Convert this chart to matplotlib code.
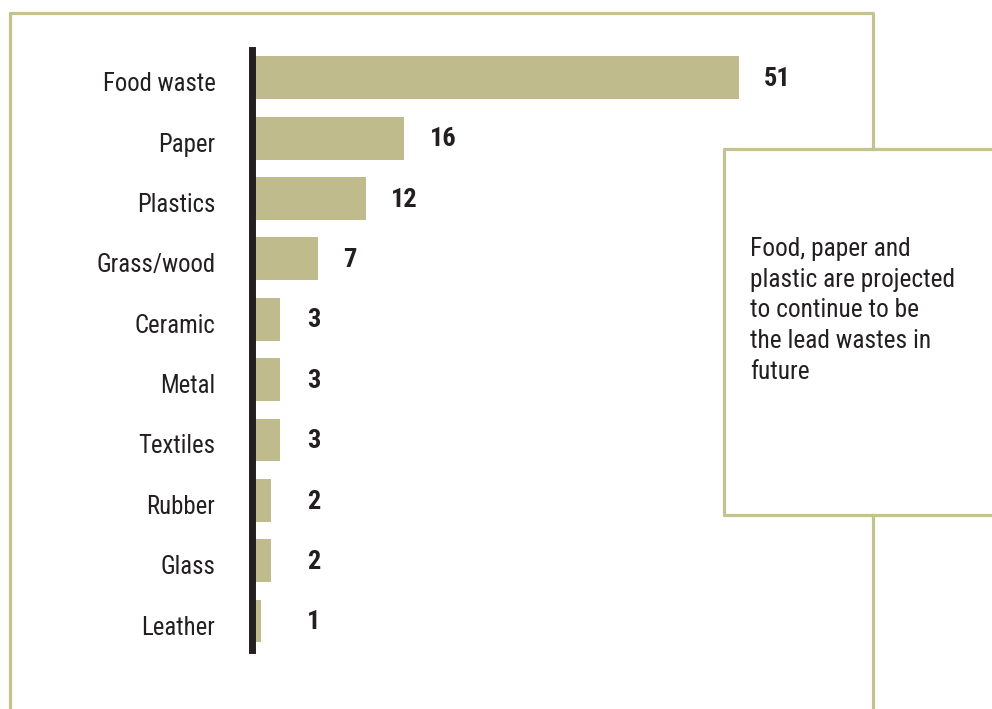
import matplotlib
matplotlib.use("Agg")
import matplotlib.pyplot as plt
from matplotlib.lines import Line2D
from matplotlib.transforms import ScaledTranslation
from matplotlib import font_manager

categories = ["Food waste", "Paper", "Plastics", "Grass/wood", "Ceramic",
              "Metal", "Textiles", "Rubber", "Glass", "Leather"]
values = [51, 16, 12, 7, 3, 3, 3, 2, 2, 1]
note = "Food, paper and\nplastic are projected\nto continue to be\nthe lead wastes in\nfuture"

names = {f.name for f in font_manager.fontManager.ttflist}
FONT = "DejaVu Sans"
for cand in ["Roboto Condensed", "Archivo Narrow", "Barlow Semi Condensed"]:
    if cand in names:
        FONT = cand
        break
plt.rcParams["font.family"] = [FONT, "DejaVu Sans"]

BAR = "#bfbb8d"
FRAME = "#c5c291"
TXT = "#231f20"

W, H = 992, 709
fig = plt.figure(figsize=(W / 100, H / 100), dpi=100)
fig.patch.set_facecolor("white")

def fx(px):
    return px / W

def fy(py):
    return 1 - py / H

px_per_unit = 9.56
ax_left, ax_right = 251.5, 860
ax = fig.add_axes([fx(ax_left), fy(650), fx(ax_right - ax_left), (650 - 50) / H])
ax.set_xlim(0, (ax_right - ax_left) / px_per_unit)
n = len(categories)
ypos = list(range(n))
ax.set_ylim(9.48, -0.46)
ax.barh(ypos, values, height=0.71, color=BAR, zorder=1)

for s in ["top", "right", "bottom"]:
    ax.spines[s].set_visible(False)
ax.spines["left"].set_color(TXT)
ax.spines["left"].set_linewidth(5)
ax.spines["left"].set_zorder(3)
ax.set_xticks([])
ax.set_yticks(ypos)
ax.set_yticklabels(categories, fontsize=17.8, color=TXT, fontweight="normal")
ax.tick_params(axis="y", length=0, pad=26)
for lab in ax.get_yticklabels():
    lab.set_transform(lab.get_transform() + ScaledTranslation(0, -4 / 100, fig.dpi_scale_trans))
ax.patch.set_alpha(0)

min_x = (307 - ax_left) / px_per_unit
off = 25 / px_per_unit
for y, v in zip(ypos, values):
    x = max(v + off, min_x)
    ax.text(x, y + 0.02, str(v), ha="left", va="center", fontsize=19,
            fontweight="bold", color=TXT)

lw = 2.3
def fline(xs, ys):
    fig.add_artist(Line2D([fx(x) for x in xs], [fy(y) for y in ys],
                          transform=fig.transFigure, color=FRAME, lw=lw,
                          solid_capstyle="projecting"))

fline([10, 10, 873, 873], [712, 13, 13, 149])
fline([873, 873], [515, 712])
fline([995, 724, 724, 995], [149, 149, 515, 515])

fig.text(fx(750), fy(237), note, ha="left", va="top", fontsize=18.3,
         color=TXT, linespacing=1.35, fontweight="normal")

fig.savefig("out.png", dpi=100, facecolor="white")
